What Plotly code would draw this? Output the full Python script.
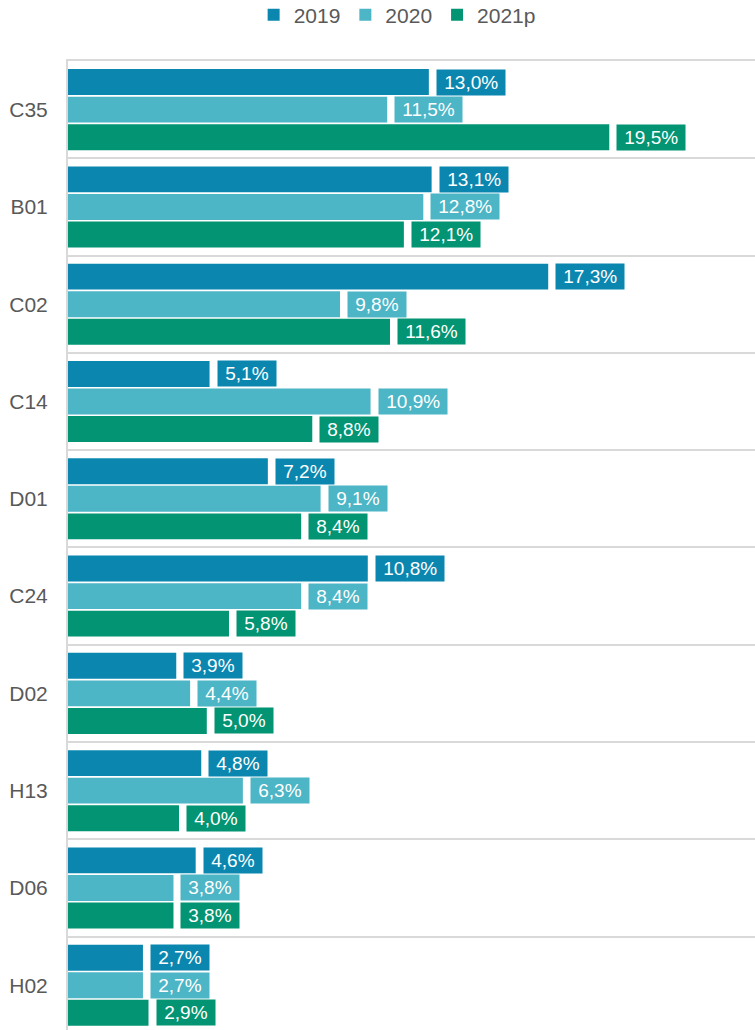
import plotly.graph_objects as go

categories = ["C35", "B01", "C02", "C14", "D01", "C24", "D02", "H13", "D06", "H02"]
series_names = ["2019", "2020", "2021p"]
values_2019 = [13.0, 13.1, 17.3, 5.1, 7.2, 10.8, 3.9, 4.8, 4.6, 2.7]
values_2020 = [11.5, 12.8, 9.8, 10.9, 9.1, 8.4, 4.4, 6.3, 3.8, 2.7]
values_2021 = [19.5, 12.1, 11.6, 8.8, 8.4, 5.8, 5.0, 4.0, 3.8, 2.9]
colors = ["#0B87AF", "#4CB5C6", "#029473"]

series_values = [values_2019, values_2020, values_2021]

BARGAP = 0.15
GROUPGAP = 0.06
FONT = "Liberation Sans, Arial, sans-serif"
GREY = "#595959"
W, H = 755, 1030

fig = go.Figure()
for name, vals, col in zip(series_names, series_values, colors):
    fig.add_trace(go.Bar(
        y=categories, x=vals, name=name, orientation="h",
        marker=dict(color=col, line=dict(width=0)),
    ))

slot = (1 - BARGAP) / len(series_names)
annotations = []
for k, (vals, col) in enumerate(zip(series_values, colors)):
    for i, v in enumerate(vals):
        label = "\u00a0" + f"{v:.1f}".replace(".", ",") + "%" + "\u00a0"
        annotations.append(dict(
            x=v, y=i - (1 - BARGAP) / 2 + slot * (k + 0.5),
            xref="x", yref="y", text=label, showarrow=False,
            xanchor="left", yanchor="middle", xshift=7,
            bgcolor=col, borderpad=2,
            font=dict(family=FONT, size=19, color="white"),
        ))

fig.update_layout(
    width=W, height=H,
    margin=dict(l=68, r=0, t=61, b=0, autoexpand=False),
    paper_bgcolor="white", plot_bgcolor="white",
    barmode="group", bargap=BARGAP, bargroupgap=GROUPGAP,
    font=dict(family=FONT, color=GREY, size=20),
    showlegend=True,
    legend=dict(orientation="h", x=0.526, xanchor="center", xref="container",
                y=1 - 15 / H, yanchor="middle", yref="container",
                font=dict(family=FONT, size=21, color=GREY),
                traceorder="normal"),
    annotations=annotations,
)
fig.update_xaxes(range=[0, 24.75], showgrid=False, zeroline=False,
                 showticklabels=False, showline=True, side="top",
                 linecolor="#D9D9D9", linewidth=2, automargin=False)
fig.update_yaxes(type="category", categoryorder="array", categoryarray=categories,
                 range=[9.46, -0.5], tickson="boundaries", showgrid=True,
                 gridcolor="#D9D9D9", gridwidth=2, showline=True,
                 linecolor="#D9D9D9", linewidth=2, ticks="", automargin=False,
                 tickfont=dict(family=FONT, size=21, color=GREY), ticklabelstandoff=14)

fig.write_html("out.html", config={"displayModeBar": False},
               post_script="document.body.style.margin='0';document.body.style.overflow='hidden';")
